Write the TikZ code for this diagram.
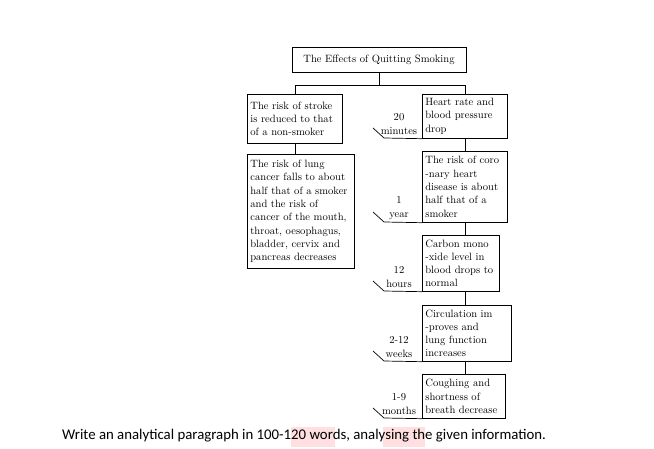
\documentclass[tikz,border=0pt]{standalone}
\usepackage{fontspec}
\newfontfamily\carl{Carlito}
\begin{document}
\begin{tikzpicture}[x=1pt,y=-1pt,
  box/.style={draw, line width=0.7pt, anchor=north west, align=left, inner xsep=3pt, inner ysep=2pt, font=\fontsize{10.6}{13.3}\selectfont},
  lbl/.style={align=center, font=\fontsize{10.6}{13.3}\selectfont, inner sep=0pt},
  ln/.style={line width=0.7pt}]
\useasboundingbox (0,0) rectangle (654,449);
\fill[white] (0,0) rectangle (654,449);
\node[box, minimum width=174pt, minimum height=25pt, align=center, anchor=center] (title) at (379,59.5) {The Effects of Quitting Smoking};
\node[box, text width=89pt, minimum height=49pt] (l1) at (247,94) {The risk of stroke\\is reduced to that\\of a non-smoker};
\node[box, text width=101pt, minimum height=114pt, anchor=north west] (l2) at (247,154) {The risk of lung\\cancer falls to about\\half that of a smoker\\and the risk of\\cancer of the mouth,\\throat, oesophagus,\\bladder, cervix and\\pancreas decreases\\};
\node[box, text width=79pt, minimum height=44pt] (r1) at (422,94) {Heart rate and\\blood pressure\\drop};
\node[box, text width=79pt, minimum height=71pt] (r2) at (422,151) {The risk of coro\\-nary heart\\disease is about\\half that of a\\smoker};
\node[box, text width=71pt, minimum height=56pt] (r3) at (422,235) {Carbon mono\\-xide level in\\blood drops to\\normal};
\node[box, text width=83pt, minimum height=56pt] (r4) at (422,305) {Circulation im\\-proves and\\lung function\\increases};
\node[box, text width=77pt, minimum height=44pt] (r5) at (422,374) {Coughing and\\shortness of\\breath decrease};
\draw[ln] (title.south) -- (379,85) coordinate (j);
\draw[ln] (j) -| (l1.north -| 295,0);
\draw[ln] (j) -| (r1.north -| 465,0);
\draw[ln] (295,143) -- (295,154);
\draw[ln] (465,138) -- (465,151);
\draw[ln] (465,222) -- (465,235);
\draw[ln] (465,291) -- (465,305);
\draw[ln] (465,361) -- (465,374);
\foreach \b/\y/\t/\u in {r1/138/20/minutes, r2/222/1/year, r3/291/12/hours, r4/361/2-12/weeks, r5/418/1-9/months}{
  \node[lbl] (t\b) at (399,\y-14) {\t\\\u};
  \coordinate (k\b) at (384,\y);
  \draw[ln] (373,\y-10) -- (k\b) -- (\b.south west);
}
\fill[pink!50] (291,427) rectangle (335,447);
\fill[pink!50] (383,427) rectangle (425,447);
\node[anchor=west, inner sep=0pt, font=\carl\fontsize{14.8}{16}\selectfont] (q) at (62,436) {Write an analytical paragraph in 100-120 words, analysing the given information.};
\end{tikzpicture}
\end{document}
